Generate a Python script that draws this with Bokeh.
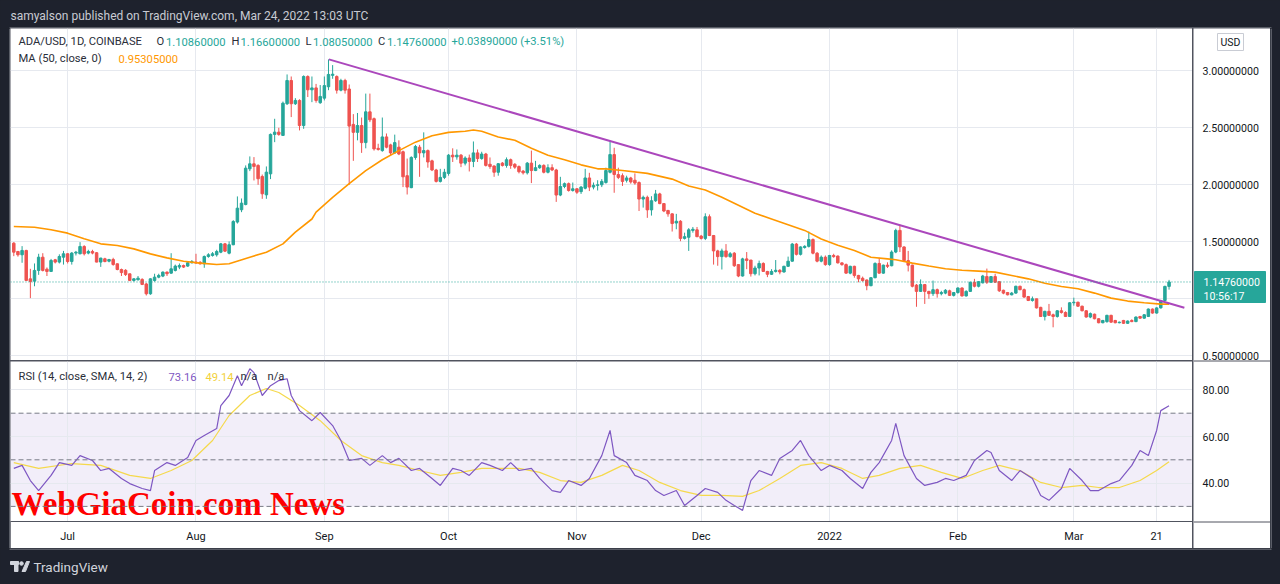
import numpy as np
import pandas as pd
from bokeh.plotting import figure
from bokeh.models import (Range1d, FixedTicker, ColumnDataSource, Span, BoxAnnotation, Grid)
from bokeh.layouts import column, row
from bokeh.embed import file_html
from bokeh.resources import INLINE
from bokeh.core.properties import value

# ---------------- data ----------------
START = "2021-06-18"
opens = [
1.488,1.415,1.386,1.424,1.175,1.155,1.249,1.365,1.260,1.240,
1.342,1.322,1.365,1.395,1.327,1.401,1.395,1.459,1.401,1.415,
1.404,1.322,1.351,1.330,1.345,1.307,1.257,1.250,1.219,1.161,
1.167,1.170,1.130,1.044,1.161,1.190,1.199,1.234,1.225,1.249,
1.278,1.292,1.287,1.316,1.322,1.320,1.307,1.371,1.380,1.386,
1.409,1.482,1.400,1.474,1.673,1.781,1.827,2.140,2.184,2.170,
2.073,1.912,2.096,2.442,2.462,2.433,2.711,2.915,2.711,2.740,
2.520,2.950,2.833,2.850,2.720,2.760,2.860,2.960,2.950,2.830,
2.915,2.840,2.530,2.460,2.520,2.370,2.640,2.580,2.320,2.300,
2.420,2.350,2.280,2.330,2.290,2.080,1.975,2.240,2.330,2.280,
2.300,2.210,2.130,2.030,2.065,2.100,2.260,2.245,2.260,2.190,
2.235,2.205,2.280,2.230,2.270,2.180,2.165,2.110,2.190,2.170,
2.220,2.180,2.160,2.120,2.105,2.190,2.125,2.150,2.170,2.110,
2.150,2.130,1.910,1.985,2.010,1.950,1.965,1.940,1.970,2.060,
1.980,1.995,2.000,2.020,2.110,2.265,2.090,2.080,2.040,2.060,
2.040,2.020,1.875,1.890,1.780,1.860,1.920,1.835,1.775,1.745,
1.665,1.680,1.530,1.540,1.600,1.605,1.550,1.530,1.720,1.555,
1.420,1.370,1.420,1.370,1.400,1.300,1.200,1.350,1.340,1.220,
1.270,1.310,1.240,1.215,1.240,1.250,1.235,1.285,1.330,1.480,
1.390,1.450,1.460,1.520,1.400,1.330,1.365,1.300,1.380,1.375,
1.315,1.300,1.225,1.285,1.205,1.180,1.165,1.115,1.185,1.310,
1.225,1.295,1.290,1.410,1.600,1.455,1.335,1.295,1.120,1.065,
1.125,1.065,1.045,1.080,1.045,1.050,1.070,1.030,1.055,1.095,
1.025,1.065,1.145,1.110,1.140,1.195,1.145,1.195,1.150,1.075,
1.055,1.035,1.050,1.110,1.080,1.020,0.985,1.000,0.925,0.845,
0.890,0.860,0.845,0.895,0.880,0.845,0.965,0.970,0.935,0.895,
0.840,0.865,0.825,0.790,0.800,0.855,0.810,0.790,0.810,0.785,
0.810,0.800,0.845,0.830,0.845,0.910,0.875,0.920,0.985,1.1086]
highs = [
1.497,1.420,1.462,1.430,1.263,1.310,1.395,1.400,1.275,1.350,
1.350,1.390,1.420,1.400,1.410,1.420,1.497,1.470,1.430,1.430,
1.410,1.360,1.360,1.350,1.360,1.310,1.265,1.260,1.220,1.180,
1.200,1.180,1.140,1.180,1.220,1.220,1.240,1.240,1.400,1.300,
1.310,1.300,1.330,1.340,1.395,1.330,1.380,1.400,1.410,1.430,
1.490,1.490,1.503,1.690,1.898,1.880,2.170,2.249,2.243,2.180,
2.090,2.161,2.450,2.579,2.500,2.730,2.968,2.950,2.760,2.750,
2.960,2.960,2.950,2.885,2.875,2.950,3.100,3.050,2.960,2.930,
2.930,2.880,2.620,2.630,2.590,2.800,2.800,2.590,2.360,2.590,
2.450,2.360,2.440,2.390,2.300,2.230,2.250,2.350,2.350,2.460,
2.310,2.220,2.140,2.140,2.140,2.270,2.320,2.310,2.270,2.250,
2.265,2.380,2.310,2.290,2.280,2.240,2.170,2.190,2.200,2.240,
2.230,2.190,2.170,2.130,2.200,2.300,2.210,2.180,2.180,2.180,
2.180,2.140,2.070,2.020,2.020,2.020,1.970,1.990,2.140,2.105,
2.020,2.040,2.050,2.150,2.383,2.325,2.150,2.100,2.080,2.070,
2.100,2.030,1.905,1.905,1.900,1.955,1.930,1.840,1.780,1.750,
1.745,1.690,1.580,1.620,1.630,1.630,1.560,1.750,1.740,1.560,
1.430,1.440,1.480,1.410,1.410,1.300,1.360,1.410,1.340,1.290,
1.335,1.320,1.245,1.260,1.340,1.260,1.290,1.370,1.490,1.490,
1.460,1.470,1.590,1.530,1.410,1.380,1.380,1.385,1.395,1.380,
1.320,1.310,1.290,1.290,1.210,1.195,1.170,1.190,1.320,1.360,
1.300,1.320,1.425,1.615,1.650,1.460,1.420,1.300,1.130,1.170,
1.130,1.070,1.160,1.090,1.070,1.085,1.080,1.060,1.100,1.100,
1.075,1.150,1.175,1.155,1.210,1.265,1.200,1.220,1.155,1.080,
1.060,1.060,1.115,1.115,1.090,1.025,1.020,1.000,0.930,0.895,
0.955,0.870,0.900,0.925,0.890,0.970,1.010,0.975,0.940,0.900,
0.880,0.870,0.830,0.815,0.860,0.860,0.815,0.800,0.815,0.810,
0.820,0.845,0.850,0.865,0.915,0.915,0.925,0.990,1.115,1.166]
lows = [
1.374,1.370,1.316,1.160,1.006,1.110,1.210,1.240,1.200,1.240,
1.310,1.310,1.300,1.310,1.300,1.380,1.390,1.380,1.390,1.390,
1.320,1.280,1.320,1.320,1.290,1.250,1.200,1.200,1.155,1.150,
1.160,1.120,1.029,1.035,1.150,1.180,1.190,1.200,1.220,1.240,
1.260,1.270,1.280,1.310,1.310,1.300,1.272,1.360,1.370,1.370,
1.400,1.410,1.390,1.470,1.660,1.760,1.820,2.120,2.038,2.000,
1.877,1.877,2.050,2.374,2.430,2.430,2.700,2.594,2.700,2.477,
2.491,2.770,2.725,2.720,2.710,2.740,2.830,2.930,2.800,2.820,
2.800,2.000,2.210,2.390,2.280,2.320,2.550,2.300,2.300,2.290,
2.320,2.260,2.270,2.260,1.980,1.915,1.970,2.220,2.070,2.240,
2.150,2.120,2.020,2.020,2.050,2.080,2.200,2.220,2.155,2.170,
2.117,2.155,2.200,2.220,2.160,2.140,2.070,2.080,2.160,2.150,
2.140,2.140,2.100,2.090,2.090,2.015,2.120,2.140,2.100,2.100,
2.120,1.850,1.900,1.970,1.940,1.940,1.920,1.920,1.960,1.945,
1.960,1.950,1.980,2.010,2.100,1.930,2.050,1.990,2.020,2.010,
2.000,1.770,1.800,1.710,1.730,1.850,1.830,1.760,1.720,1.590,
1.610,1.505,1.520,1.420,1.580,1.540,1.520,1.515,1.550,1.300,
1.290,1.257,1.360,1.360,1.280,1.190,1.195,1.260,1.195,1.205,
1.205,1.235,1.190,1.210,1.230,1.215,1.230,1.280,1.325,1.380,
1.380,1.440,1.450,1.390,1.320,1.320,1.290,1.290,1.360,1.310,
1.290,1.220,1.215,1.185,1.145,1.150,1.075,1.110,1.180,1.220,
1.220,1.270,1.285,1.400,1.410,1.330,1.240,1.100,0.930,1.060,
0.955,1.000,1.025,1.010,1.030,1.040,1.025,1.020,1.045,1.020,
1.020,1.060,1.100,1.100,1.135,1.130,1.140,1.140,1.060,1.040,
1.030,1.030,1.045,1.075,1.010,0.980,0.975,0.915,0.840,0.810,
0.850,0.750,0.835,0.870,0.840,0.840,0.940,0.930,0.890,0.835,
0.830,0.820,0.785,0.785,0.790,0.790,0.785,0.785,0.780,0.780,
0.795,0.795,0.825,0.825,0.840,0.870,0.870,0.915,0.980,1.0805]
closes = [
1.409,1.386,1.424,1.161,1.152,1.249,1.365,1.249,1.240,1.336,
1.322,1.371,1.395,1.327,1.401,1.409,1.459,1.395,1.415,1.401,
1.322,1.357,1.327,1.345,1.301,1.257,1.230,1.213,1.161,1.175,
1.181,1.126,1.044,1.175,1.190,1.205,1.234,1.220,1.263,1.287,
1.292,1.278,1.316,1.327,1.313,1.307,1.371,1.386,1.395,1.415,
1.482,1.418,1.474,1.678,1.795,1.839,2.146,2.184,2.161,2.053,
1.921,2.111,2.442,2.462,2.442,2.716,2.915,2.711,2.740,2.520,
2.950,2.833,2.850,2.740,2.775,2.870,2.968,2.970,2.830,2.915,
2.830,2.515,2.460,2.520,2.370,2.640,2.570,2.315,2.310,2.420,
2.330,2.280,2.370,2.270,2.070,1.980,2.240,2.336,2.280,2.300,
2.200,2.130,2.030,2.065,2.110,2.260,2.245,2.260,2.190,2.235,
2.205,2.280,2.230,2.270,2.170,2.160,2.110,2.185,2.170,2.220,
2.170,2.155,2.115,2.105,2.190,2.125,2.150,2.170,2.110,2.150,
2.130,1.910,1.985,2.010,1.950,1.965,1.935,1.980,2.060,1.980,
1.995,2.000,2.030,2.125,2.265,2.090,2.065,2.030,2.060,2.025,
2.015,1.875,1.890,1.780,1.860,1.920,1.835,1.770,1.745,1.660,
1.680,1.530,1.545,1.605,1.610,1.545,1.530,1.720,1.555,1.420,
1.370,1.420,1.370,1.395,1.290,1.200,1.350,1.336,1.220,1.270,
1.310,1.240,1.215,1.240,1.250,1.235,1.285,1.330,1.480,1.390,
1.455,1.460,1.520,1.400,1.330,1.365,1.300,1.380,1.370,1.315,
1.300,1.225,1.285,1.205,1.175,1.160,1.115,1.185,1.310,1.225,
1.295,1.285,1.410,1.600,1.455,1.335,1.295,1.110,1.065,1.125,
1.065,1.045,1.080,1.045,1.055,1.075,1.030,1.055,1.095,1.025,
1.065,1.145,1.110,1.150,1.200,1.145,1.195,1.145,1.070,1.050,
1.035,1.050,1.110,1.080,1.015,0.985,1.000,0.920,0.845,0.890,
0.855,0.845,0.895,0.880,0.845,0.965,0.970,0.935,0.895,0.840,
0.870,0.825,0.790,0.810,0.855,0.795,0.790,0.795,0.785,0.805,
0.800,0.840,0.830,0.860,0.910,0.875,0.920,0.985,1.1087,1.1476]

# MA(50) (day number since START, value)
ma_day = [0,5,9,13,17,21,25,29,33,37,41,45,49,52,57,61,65,68,72,73,77,81,85,89,93,97,101,
          105,109,111,113,117,121,125,129,133,137,141,143,147,153,159,163,167,171,175,179,
          183,187,191,195,199,203,207,211,213,217,221,225,229,233,237,241,245,249,253,257,
          261,265,269,273,277,279]
ma_val = [1.634,1.628,1.605,1.576,1.526,1.482,1.467,1.438,1.394,1.359,1.330,1.313,1.301,1.307,
          1.365,1.409,1.482,1.585,1.700,1.760,1.890,2.010,2.125,2.220,2.300,2.374,2.430,
          2.460,2.470,2.480,2.470,2.420,2.390,2.320,2.260,2.220,2.175,2.140,2.140,2.125,2.100,
          2.050,1.990,1.955,1.890,1.820,1.750,1.700,1.650,1.600,1.525,1.470,1.424,1.365,1.350,
          1.342,1.313,1.287,1.263,1.250,1.243,1.234,1.205,1.175,1.137,1.108,1.088,1.050,1.006,
          0.980,0.965,0.953,0.95305]

# trend line drawn on the chart (day, price)
trend_day = [76.1, 282.7]
trend_val = [3.100, 0.921]

# RSI(14) and its SMA(14)
rsi_day = [0,2,4,6,9,11,14,16,19,21,23,26,28,31,33,34,37,39,42,44,46,49,50,52,54,55,57,58,60,62,
           64,66,67,69,72,74,77,79,81,84,86,89,91,93,96,98,101,103,106,108,110,113,115,118,120,
           122,125,127,130,132,134,137,139,142,144,145,148,150,153,155,157,160,162,165,167,170,
           172,174,176,178,180,183,185,188,190,192,195,197,200,202,205,207,209,212,213,215,218,
           220,223,225,227,230,232,235,236,238,241,243,246,248,250,253,255,258,260,262,265,267,
           270,272,274,276,277,279]
rsi_val = [46.3,47.6,41.1,36.8,43.3,48.8,47.6,51.8,49.7,45.4,46.3,42.0,39.8,37.7,36.8,45.4,48.8,
           47.6,51.0,58.3,60.4,63.4,73.3,77.6,86.1,81.8,89.1,87.4,77.6,81.8,84.0,84.8,77.6,71.1,
           66.8,70.3,64.7,58.3,49.7,50.6,47.6,51.8,48.8,50.6,45.4,46.3,42.0,39.0,46.3,45.4,43.3,
           48.8,47.6,45.4,48.8,45.4,46.3,42.0,36.8,36.0,41.1,39.0,42.0,51.8,62.6,51.8,48.8,43.3,
           41.1,36.8,34.7,36.8,30.4,34.7,37.7,36.0,32.6,30.4,28.3,41.1,45.4,43.3,50.6,54.0,58.3,
           51.8,45.4,47.6,45.4,42.0,37.7,44.6,48.8,58.3,65.6,51.8,42.0,39.0,40.3,42.0,41.1,43.3,
           49.7,54.0,53.1,45.4,41.1,45.4,42.0,34.7,32.6,37.7,46.3,41.1,36.8,36.8,39.8,41.1,47.6,
           54.0,51.8,62.6,71.1,73.16]
sma_day = [0,6,14,21,28,33,38,43,48,52,57,61,64,69,74,79,84,89,93,98,103,108,113,118,122,127,
           132,137,142,147,151,156,161,166,171,176,180,185,190,195,200,205,209,214,219,224,229,
           234,238,243,248,253,258,262,267,272,276,279]
sma_val = [48.8,46.3,48.4,47.6,43.3,42.0,45.4,49.7,58.3,69.0,77.6,80.6,78.9,73.3,66.8,58.3,51.8,
           48.8,47.6,45.4,43.3,44.6,46.3,46.3,46.3,44.6,41.1,40.3,43.3,47.6,45.4,40.3,36.8,34.7,
           34.7,34.3,36.8,42.0,47.6,48.8,46.3,42.0,43.3,46.3,47.6,44.6,42.0,45.4,47.6,45.4,40.3,
           38.1,39.0,38.1,38.1,41.1,45.4,49.14]

tick_dates = ["2021-07-01","2021-08-01","2021-09-01","2021-10-01","2021-11-01","2021-12-01",
              "2022-01-01","2022-02-01","2022-03-01","2022-03-21"]
tick_labels = ["Jul","Aug","Sep","Oct","Nov","Dec","2022","Feb","Mar","21"]
price_ticks = [0.5, 1.0, 1.5, 2.0, 2.5, 3.0]
rsi_ticks = [40, 60, 80]
rsi_levels = [70, 50, 30]

n = len(closes)
assert len(opens) == n and len(highs) == n and len(lows) == n, (len(opens), len(highs), len(lows), n)

# ---------------- styles / geometry ----------------
DARK = "#1e222d"
SEP = "#50535e"
BORDER = "#9598a1"
GRID = "#e6e9ef"
UP = "#26a69a"
DOWN = "#ef5350"
TXT = "#131722"
LEG = "#2a2e39"
FONT = "Roboto"

PXD = 4.1407            # pixels per day
X0 = -0.797
X1 = X0 + 1182 / PXD
P_TOP, P_BOT = 3.371, 0.4588
R_TOP, R_BOT = 92.19, 23.52

def mx(px):   # pixel x -> day coordinate
    return X0 + (px - 10) / PXD

def my(py):   # pixel y -> price coordinate (main pane)
    return P_TOP - (py - 28) * (P_TOP - P_BOT) / 332.0

def ry(py):   # pixel y -> RSI coordinate
    return R_TOP - (py - 361) * (R_TOP - R_BOT) / 160.0

start = pd.Timestamp(START)
day = np.arange(n)
month_idx = [(pd.Timestamp(d) - start).days for d in tick_dates]

xr = Range1d(X0, X1)
pyr = Range1d(P_BOT, P_TOP)
ryr = Range1d(R_BOT, R_TOP)

def blank(fig, bg="white"):
    fig.background_fill_color = bg
    fig.border_fill_color = bg
    fig.outline_line_color = None
    fig.xgrid.visible = False
    fig.ygrid.visible = False
    return fig

def plain(w, h, xrange, yrange, bg=DARK):
    return blank(figure(width=w, height=h, x_range=xrange, y_range=yrange, output_backend="svg",
                        toolbar_location=None, x_axis_location=None, y_axis_location=None,
                        min_border=0), bg)

# ---------------- main price pane ----------------
main = blank(figure(width=1182, height=332, x_range=xr, y_range=pyr, output_backend="svg",
                    toolbar_location=None, x_axis_location=None, y_axis_location=None,
                    min_border=0))
main.add_layout(Grid(dimension=0, ticker=FixedTicker(ticks=month_idx), grid_line_color=GRID))
main.add_layout(Grid(dimension=1, ticker=FixedTicker(ticks=price_ticks), grid_line_color=GRID))

o = np.array(opens); h = np.array(highs); l = np.array(lows); c = np.array(closes)
colors = [UP if cc >= oo else DOWN for oo, cc in zip(o, c)]
src = ColumnDataSource(dict(x=day, top=np.maximum(o, c), bottom=np.minimum(o, c),
                            hi=np.maximum(h, np.maximum(o, c)), lo=np.minimum(l, np.minimum(o, c)),
                            color=colors))
main.segment(x0="x", y0="lo", x1="x", y1="hi", color="color", line_width=1, source=src)
main.vbar(x="x", width=0.6, top="top", bottom="bottom", fill_color="color", line_color="color",
          line_width=1, source=src)

main.line(ma_day, ma_val, line_color="#ff9800", line_width=1.6)
main.line(trend_day, trend_val, line_color="#ab47bc", line_width=2)
main.add_layout(Span(location=closes[-1], dimension="width", line_color=UP, line_dash="1 2",
                     line_width=1))

chg = closes[-1] - closes[-2]
leg_txt = ["ADA/USD, 1D, COINBASE", "O", f"{opens[-1]:.8f}", "H", f"{highs[-1]:.8f}",
           "L", f"{lows[-1]:.8f}", "C", f"{closes[-1]:.8f}",
           f"{chg:+.8f} ({chg / closes[-2] * 100:+.2f}%)",
           "MA (50, close, 0)", f"{ma_val[-1]:.8f}"]
leg_px = [18, 156, 165.5, 231, 240, 305, 312.5, 377.5, 386.5, 451, 18, 118]
leg_py = [41] * 10 + [58, 58]
leg_col = [LEG, LEG, UP, LEG, UP, LEG, UP, LEG, UP, UP, LEG, "#ff9800"]
main.text(x=[mx(v) for v in leg_px], y=[my(v) for v in leg_py], text=leg_txt,
          text_color=leg_col, text_font=value(FONT), text_font_size="11.2px",
          text_baseline="middle", text_align="left")

# ---------------- RSI pane ----------------
rsi = blank(figure(width=1182, height=187, x_range=xr, y_range=ryr, output_backend="svg",
                   toolbar_location=None, x_axis_location="below", y_axis_location=None,
                   min_border=0, min_border_bottom=27))
rsi.add_layout(BoxAnnotation(bottom=rsi_levels[2], top=rsi_levels[0], fill_color="#7e57c2",
                             fill_alpha=0.1, line_color=None, level="underlay"))
rsi.add_layout(Grid(dimension=0, ticker=FixedTicker(ticks=month_idx), grid_line_color=GRID))
rsi.add_layout(Grid(dimension=1, ticker=FixedTicker(ticks=rsi_ticks), grid_line_color=GRID))
for lv in rsi_levels:
    rsi.add_layout(Span(location=lv, dimension="width", line_color="#787b86",
                        line_dash="5 3", line_width=1))

xa = rsi.xaxis[0]
xa.ticker = FixedTicker(ticks=month_idx)
xa.major_label_overrides = {int(k): v for k, v in zip(month_idx, tick_labels)}
xa.major_tick_out = 0
xa.major_tick_in = 0
xa.minor_tick_out = 0
xa.minor_tick_in = 0
xa.axis_line_color = SEP
xa.major_label_text_font = FONT
xa.major_label_text_font_size = "11px"
xa.major_label_text_color = TXT
xa.major_label_standoff = 8

rsi.line(sma_day, sma_val, line_color="#f5d94c", line_width=1.2)
rsi.line(rsi_day, rsi_val, line_color="#7e57c2", line_width=1.2)

rl_txt = ["RSI (14, close, SMA, 14, 2)", f"{rsi_val[-1]:.2f}", f"{sma_val[-1]:.2f}", "n/a", "n/a"]
rl_px = [18, 168, 205, 240, 267]
rl_col = [LEG, "#7e57c2", "#f2d13c", LEG, LEG]
rsi.text(x=[mx(v) for v in rl_px], y=[ry(376)] * 5, text=rl_txt, text_color=rl_col,
         text_font=value(FONT), text_font_size="11.2px", text_baseline="middle", text_align="left")

rsi.text(x=[mx(11)], y=[ry(503)], text=["WebGiaCoin.com News"], text_color="#ff0000",
         text_font=value("Liberation Serif"), text_font_style="bold", text_font_size="33px",
         text_baseline="middle", text_align="left")

# ---------------- price / RSI scale column (one figure spanning both panes) ----------------
scale = plain(77, 520, Range1d(1193, 1270), Range1d(my(548), my(28)), "white")
scale.extra_y_ranges = {"rsi": Range1d(ry(548), ry(28))}
scale.segment(x0=[1193, 1193], x1=[1270, 1270], y0=[my(360.5), my(521.5)],
              y1=[my(360.5), my(521.5)], line_color=SEP, line_width=1)
scale.text(x=[1202] * len(price_ticks), y=price_ticks, text=[f"{t:.8f}" for t in price_ticks],
           text_color=TXT, text_font=value(FONT), text_font_size="10.6px",
           text_baseline="middle", text_align="left")
scale.text(x=[1202] * len(rsi_ticks), y=rsi_ticks, text=[f"{t:.2f}" for t in rsi_ticks],
           text_color=TXT, text_font=value(FONT), text_font_size="10.6px",
           text_baseline="middle", text_align="left", y_range_name="rsi")
scale.quad(left=[1217], right=[1243], top=[my(33)], bottom=[my(50)], fill_color="white",
           line_color="#c9ccd4", line_width=1)
scale.text(x=[1230], y=[my(41.5)], text=["USD"], text_color=TXT, text_font=value(FONT),
           text_font_size="10.5px", text_baseline="middle", text_align="center")
scale.quad(left=[1194], right=[1265], top=[my(271)], bottom=[my(302)], fill_color=UP,
           line_color=UP)
scale.text(x=[1203, 1203], y=[closes[-1], my(295.5)], text=[f"{closes[-1]:.8f}", "10:56:17"],
           text_color="white", text_font=value(FONT), text_font_size="10.6px",
           text_baseline="middle", text_align="left")

# ---------------- frame around the panel, header / footer ----------------
header = plain(1280, 28, Range1d(0, 1280), Range1d(28, 0))
header.segment(x0=[9], x1=[1271], y0=[27.5], y1=[27.5], line_color=BORDER, line_width=1)
header.text(x=[10], y=[15], text=["samyalson published on TradingView.com, Mar 24, 2022 13:03 UTC"],
            text_color="#c8cbd3", text_font=value(FONT), text_font_size="12px",
            text_baseline="middle", text_align="left")

left_edge = plain(10, 520, Range1d(0, 10), Range1d(548, 28))
left_edge.segment(x0=[9.5], x1=[9.5], y0=[28], y1=[548], line_color=BORDER, line_width=1)
right_edge = plain(10, 520, Range1d(1270, 1280), Range1d(548, 28))
right_edge.segment(x0=[1270.5], x1=[1270.5], y0=[28], y1=[548], line_color=BORDER, line_width=1)

footer = plain(1280, 36, Range1d(0, 1280), Range1d(584, 548))
footer.segment(x0=[9], x1=[1271], y0=[548.5], y1=[548.5], line_color=BORDER, line_width=1)
LOGO = "#d1d4dc"
footer.quad(left=[10], right=[18], top=[561], bottom=[564], color=LOGO)
footer.quad(left=[14], right=[17.5], top=[561], bottom=[571], color=LOGO)
footer.circle(x=[21], y=[563], radius=1.8, color=LOGO)
footer.patch(x=[21.5, 25, 29, 26], y=[571, 571, 561, 561], color=LOGO)
footer.text(x=[33], y=[566], text=["TradingView"], text_color=LOGO, text_font=value(FONT),
            text_font_size="13.5px", text_baseline="middle", text_align="left")

left = column(main, rsi, spacing=1)
panel = row(left, scale, spacing=1, styles={"background-color": SEP})
body = row(left_edge, panel, right_edge)
page = column(header, body, footer, styles={"background-color": DARK})

open("out.html", "w").write(file_html(page, INLINE))
